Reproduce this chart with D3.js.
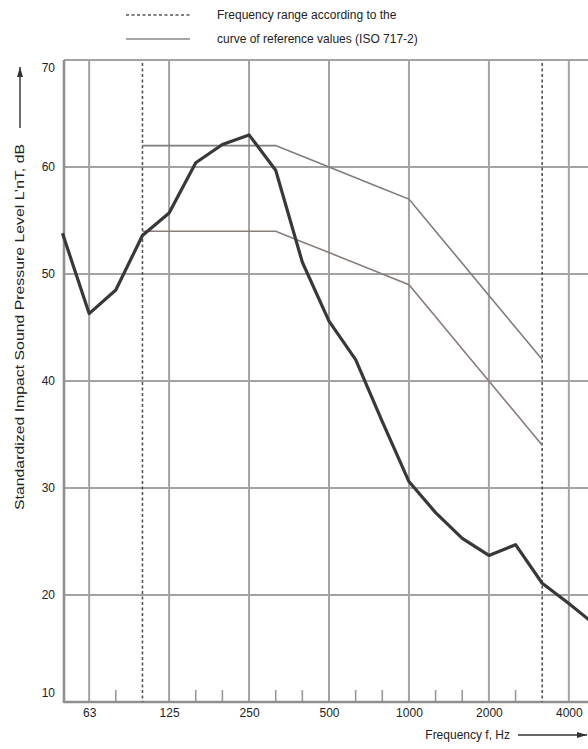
<!DOCTYPE html>
<html>
<head>
<meta charset="utf-8">
<script src="https://cdn.jsdelivr.net/npm/d3@7"></script>
<style>
  body { margin: 0; background: #fff; }
  svg { display: block; font-family: "Liberation Sans", Arial, sans-serif; }
</style>
</head>
<body>
<svg id="chart" width="588" height="749"></svg>
<script>
// third-octave bands along the x axis
var bands = ['50','63','80','100','125','160','200','250','315','400','500','630','800',
             '1000','1250','1600','2000','2500','3150','4000','5000'];
var octaveLabels = ['63','125','250','500','1000','2000','4000'];
var minorTicks = ['80','100','160','200','315','400','630','800','1250','1600','2500','3150'];
var yTicks = [10, 20, 30, 40, 50, 60, 70];

// measured curve L'nT (dB), one value per band
var measured = [53.8, 46.3, 48.5, 53.6, 55.7, 60.4, 62.1, 63.0, 59.7, 51.1, 45.6,
                42.0, 36.2, 30.6, 27.7, 25.3, 23.7, 24.7, 21.1, 19.2, 17.2];

// reference curve ISO 717-2 (100..3150 Hz), and shifted curve
var refBands = ['100','125','160','200','250','315','400','500','630','800',
                '1000','1250','1600','2000','2500','3150'];
var refShifted = [62, 62, 62, 62, 62, 62, 61, 60, 59, 58, 57, 54, 51, 48, 45, 42];
var refCurve = [54, 54, 54, 54, 54, 54, 53, 52, 51, 50, 49, 46, 43, 40, 37, 34];
var rangeBands = ['100', '3150'];

var svg = d3.select('#chart');

var x = d3.scalePoint().domain(bands).range([62.5, 595.5]);
var y = d3.scaleLinear().domain([10, 70]).range([702, 60]);

var plotLeft = 64, plotRight = 588, plotTop = y(70), plotBottom = y(10);

var grid = svg.append('g');

// horizontal grid
grid.selectAll('.hgrid')
	.data(yTicks.filter(function(d) { return d > 10; }))
	.enter().append('line')
	.attr('x1', plotLeft).attr('x2', plotRight)
	.attr('y1', function(d) { return y(d); })
	.attr('y2', function(d) { return y(d); })
	.attr('stroke', '#a3a3a3')
	.attr('stroke-width', 1.8);

// vertical grid at the octave bands
grid.selectAll('.vgrid')
	.data(octaveLabels)
	.enter().append('line')
	.attr('x1', function(d) { return x(d); })
	.attr('x2', function(d) { return x(d); })
	.attr('y1', plotTop).attr('y2', plotBottom)
	.attr('stroke', '#a3a3a3')
	.attr('stroke-width', 2);

// minor third-octave tick marks
grid.selectAll('.minor')
	.data(minorTicks.filter(function(d) { return rangeBands.indexOf(d) < 0; }))
	.enter().append('line')
	.attr('x1', function(d) { return x(d); })
	.attr('x2', function(d) { return x(d); })
	.attr('y1', plotBottom - 12).attr('y2', plotBottom)
	.attr('stroke', '#999')
	.attr('stroke-width', 1.6);

// frame: left and bottom axis lines
grid.append('line')
	.attr('x1', plotLeft).attr('x2', plotLeft).attr('y1', plotTop).attr('y2', plotBottom + 1)
	.attr('stroke', '#8f8f8f').attr('stroke-width', 2.6);
grid.append('line')
	.attr('x1', plotLeft).attr('x2', plotRight).attr('y1', plotBottom).attr('y2', plotBottom)
	.attr('stroke', '#8f8f8f').attr('stroke-width', 2.6);

// frequency range dashed lines
svg.selectAll('.range')
	.data(rangeBands)
	.enter().append('line')
	.attr('x1', function(d) { return x(d); })
	.attr('x2', function(d) { return x(d); })
	.attr('y1', plotTop + 3).attr('y2', plotBottom)
	.attr('stroke', '#555')
	.attr('stroke-width', 1.6)
	.attr('stroke-dasharray', '3,2.5');

var line = d3.line()
	.x(function(d) { return x(d[0]); })
	.y(function(d) { return y(d[1]); });

svg.append('path')
	.attr('d', line(d3.zip(refBands, refShifted)))
	.attr('fill', 'none')
	.attr('stroke', '#7d7d7d')
	.attr('stroke-width', 1.6);

svg.append('path')
	.attr('d', line(d3.zip(refBands, refCurve)))
	.attr('fill', 'none')
	.attr('stroke', '#8a7c78')
	.attr('stroke-width', 1.6);

svg.append('path')
	.attr('d', line(d3.zip(bands, measured)))
	.attr('fill', 'none')
	.attr('stroke', '#383838')
	.attr('stroke-width', 3.2)
	.attr('stroke-linejoin', 'round');

// axes (labels only)
var xAxis = svg.append('g')
	.attr('transform', 'translate(0,' + plotBottom + ')')
	.call(d3.axisBottom(x).tickValues(octaveLabels).tickSize(0).tickPadding(6));
xAxis.select('.domain').remove();
xAxis.selectAll('text').attr('font-size', 12).attr('fill', '#222')
	.attr('font-family', '"Liberation Sans", Arial, sans-serif');

var yAxis = svg.append('g')
	.attr('transform', 'translate(' + (plotLeft - 9) + ',0)')
	.call(d3.axisLeft(y).tickValues(yTicks).tickSize(0).tickPadding(0));
yAxis.select('.domain').remove();
yAxis.selectAll('text').attr('font-size', 12).attr('fill', '#222')
	.attr('font-family', '"Liberation Sans", Arial, sans-serif')
	.attr('dy', function(d) { return d === 70 ? '0.95em' : d === 10 ? '-0.5em' : '0.32em'; });

// arrow marker
svg.append('defs').append('marker')
	.attr('id', 'arrow')
	.attr('viewBox', '0 0 10 6')
	.attr('refX', 10).attr('refY', 3)
	.attr('markerWidth', 10).attr('markerHeight', 6)
	.attr('markerUnits', 'userSpaceOnUse')
	.attr('orient', 'auto')
	.append('path').attr('d', 'M0,0L10,3L0,6Z').attr('fill', '#333');

// y axis title
svg.append('text')
	.attr('transform', 'translate(24,510) rotate(-90)')
	.attr('font-size', 12)
	.attr('fill', '#222')
	.attr('textLength', 366)
	.attr('lengthAdjust', 'spacingAndGlyphs')
	.text('Standardized Impact Sound Pressure Level L\u2019nT, dB');
svg.append('line')
	.attr('x1', 20).attr('x2', 20).attr('y1', 128).attr('y2', 67)
	.attr('stroke', '#333').attr('stroke-width', 1.4)
	.attr('marker-end', 'url(#arrow)');

// x axis title
svg.append('text')
	.attr('x', 510).attr('y', 739)
	.attr('text-anchor', 'end')
	.attr('font-size', 12)
	.attr('fill', '#222')
	.text('Frequency f, Hz');
svg.append('line')
	.attr('x1', 518).attr('x2', 587).attr('y1', 735).attr('y2', 735)
	.attr('stroke', '#333').attr('stroke-width', 1.4)
	.attr('marker-end', 'url(#arrow)');

// legend
var legend = svg.append('g');
legend.append('line')
	.attr('x1', 126).attr('x2', 190).attr('y1', 15).attr('y2', 15)
	.attr('stroke', '#555').attr('stroke-width', 1.4)
	.attr('stroke-dasharray', '3,2.5');
legend.append('line')
	.attr('x1', 126).attr('x2', 190).attr('y1', 39).attr('y2', 39)
	.attr('stroke', '#8a8a8a').attr('stroke-width', 1.6);
legend.append('text')
	.attr('x', 217).attr('y', 19)
	.attr('font-size', 12).attr('fill', '#222')
	.text('Frequency range according to the');
legend.append('text')
	.attr('x', 217).attr('y', 43)
	.attr('font-size', 12).attr('fill', '#222')
	.text('curve of reference values (ISO 717-2)');
</script>
</body>
</html>
